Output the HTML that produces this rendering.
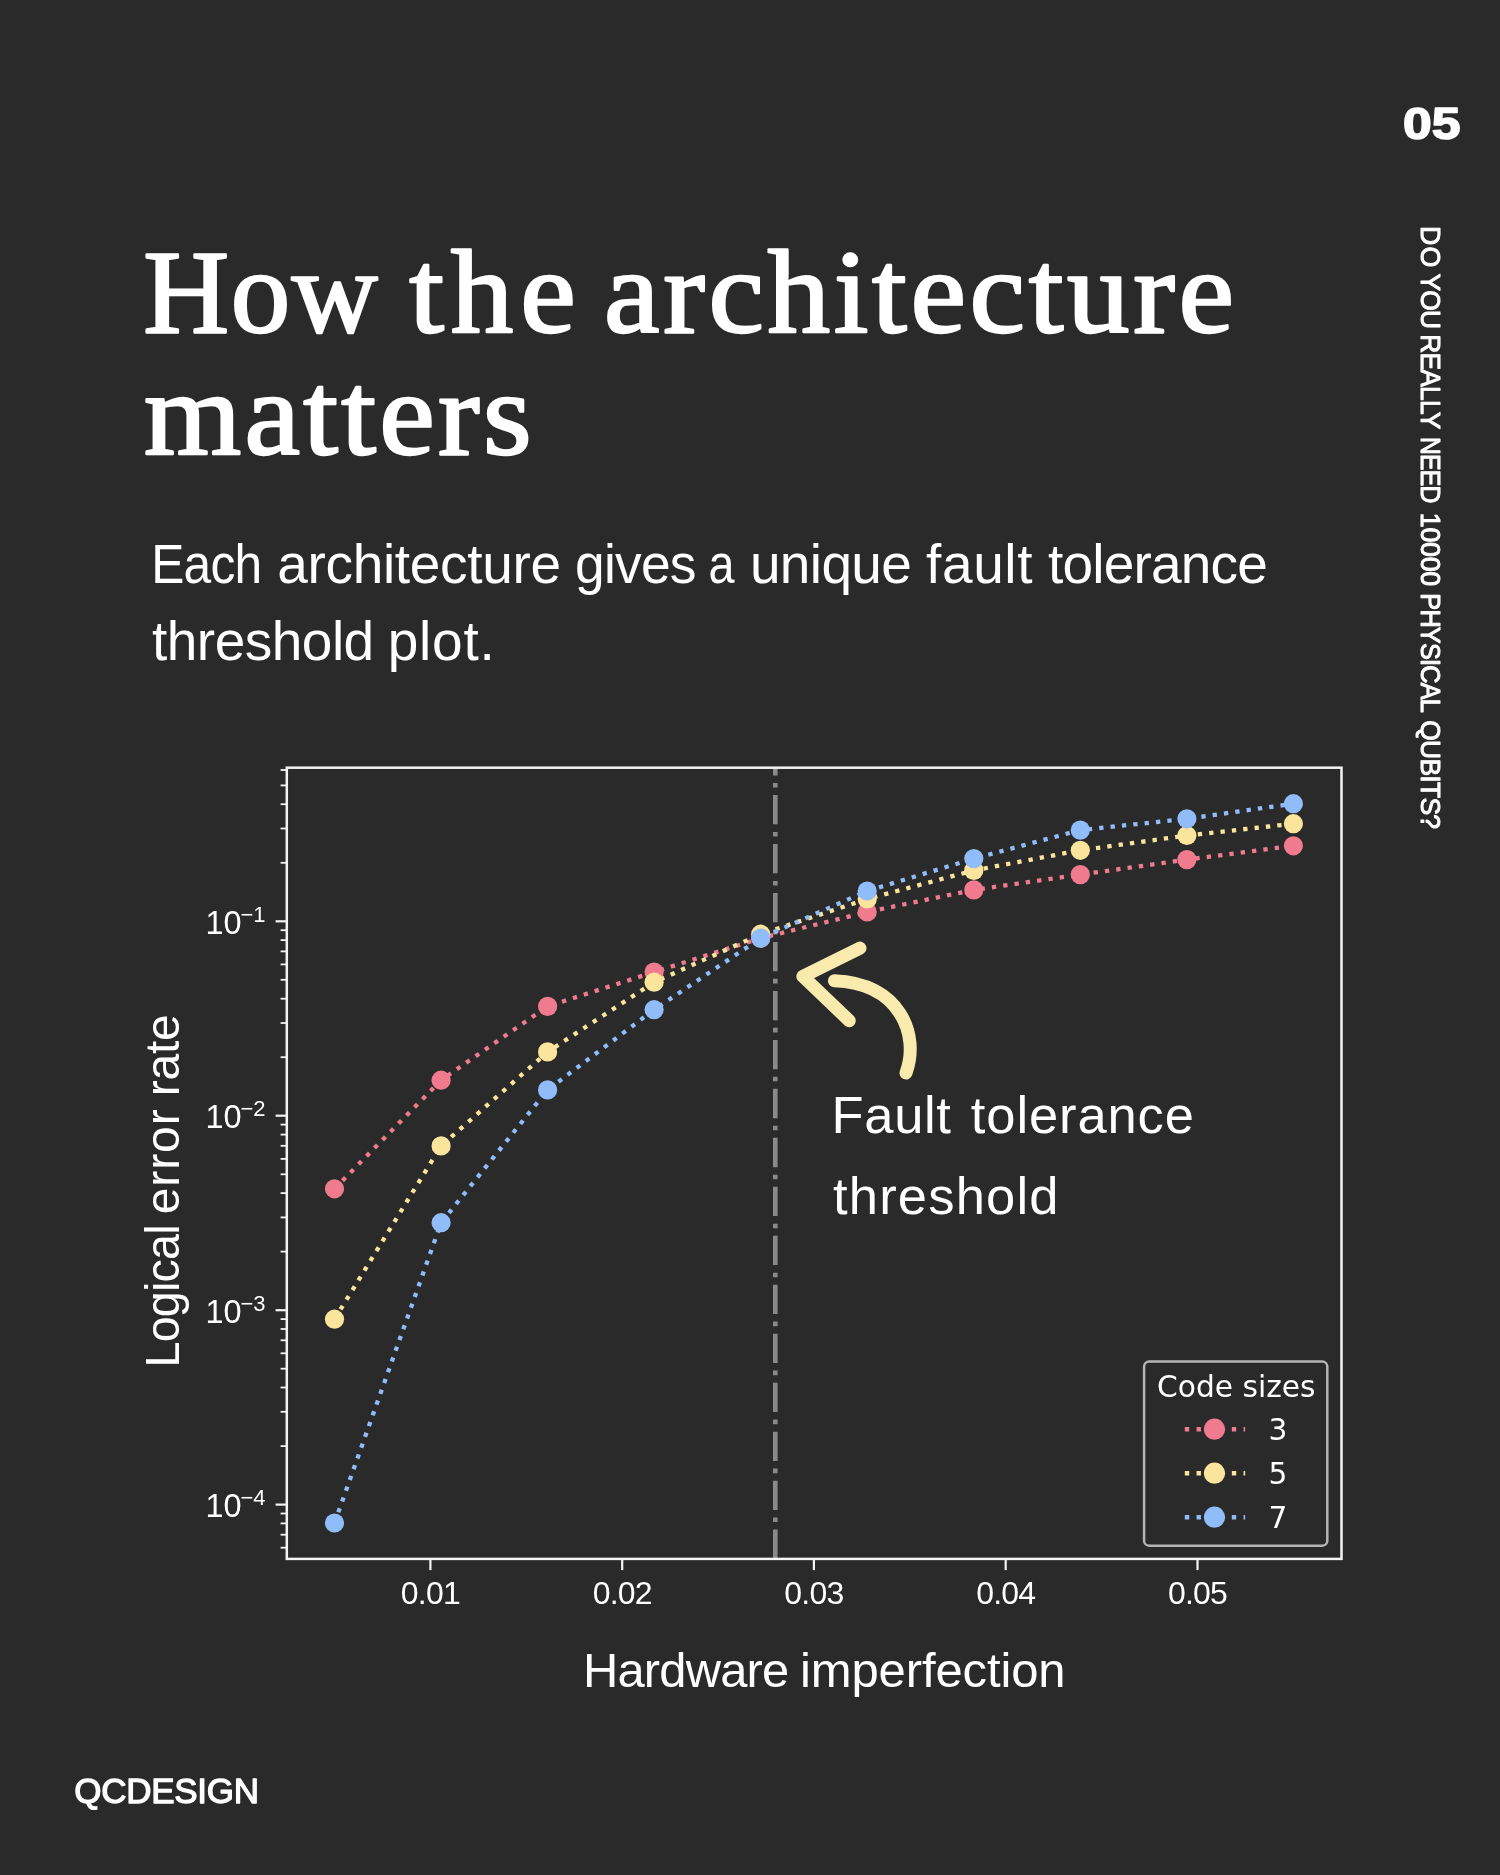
<!DOCTYPE html>
<html lang="en"><head><meta charset="utf-8"><title>How the architecture matters</title>
<style>
html,body{margin:0;padding:0;background:#2a2a2a;}
body{width:1500px;height:1875px;position:relative;overflow:hidden;}
#wrap{position:absolute;left:0;top:0;width:1500px;height:1875px;will-change:transform;}
svg{position:absolute;left:0;top:0;display:block;}
</style></head><body>
<div id="wrap">
<svg width="1500" height="1875" viewBox="0 0 1500 1875">
<text x="143.20" y="331.50" font-family="'Liberation Serif', serif" font-size="119" letter-spacing="1.58" fill="#ffffff" stroke="#ffffff" stroke-width="2.4" stroke-linejoin="round">How</text>
<text transform="translate(409.15,331.50) scale(1.0500,1)" font-family="'Liberation Serif', serif" font-size="119" letter-spacing="6.67" fill="#ffffff" stroke="#ffffff" stroke-width="2.4" stroke-linejoin="round">the</text>
<text transform="translate(604.00,331.50) scale(1.0500,1)" font-family="'Liberation Serif', serif" font-size="119" letter-spacing="3.50" fill="#ffffff" stroke="#ffffff" stroke-width="2.4" stroke-linejoin="round">architecture</text>
<text transform="translate(144.10,453.50) scale(1.0500,1)" font-family="'Liberation Serif', serif" font-size="119" letter-spacing="3.13" fill="#ffffff" stroke="#ffffff" stroke-width="2.4" stroke-linejoin="round">matters</text>
<text transform="translate(151.19,582.60) scale(0.9031,1)" font-family="'Liberation Sans', sans-serif" font-size="55" letter-spacing="-0.80" fill="#ffffff">Each</text>
<text x="277.20" y="582.60" font-family="'Liberation Sans', sans-serif" font-size="55" letter-spacing="-0.31" fill="#ffffff">architecture</text>
<text transform="translate(575.06,582.60) scale(0.9696,1)" font-family="'Liberation Sans', sans-serif" font-size="55" letter-spacing="-0.80" fill="#ffffff">gives</text>
<text transform="translate(708.42,582.60) scale(0.8500,1)" font-family="'Liberation Sans', sans-serif" font-size="55" fill="#ffffff">a</text>
<text x="749.90" y="582.60" font-family="'Liberation Sans', sans-serif" font-size="55" letter-spacing="-0.63" fill="#ffffff">unique</text>
<text x="926.00" y="582.60" font-family="'Liberation Sans', sans-serif" font-size="55" letter-spacing="0.63" fill="#ffffff">fault</text>
<text x="1048.00" y="582.60" font-family="'Liberation Sans', sans-serif" font-size="55" letter-spacing="-0.80" fill="#ffffff">tolerance</text>
<text x="152.00" y="660.40" font-family="'Liberation Sans', sans-serif" font-size="55" letter-spacing="-0.51" fill="#ffffff">threshold</text>
<text x="387.80" y="660.40" font-family="'Liberation Sans', sans-serif" font-size="55" letter-spacing="0.73" fill="#ffffff">plot.</text>
<text transform="translate(1402.95,138.60) scale(1.1470,1)" font-family="'Liberation Sans', sans-serif" font-size="45" font-weight="bold" fill="#ffffff" stroke="#ffffff" stroke-width="1.6" stroke-linejoin="round">05</text>
<g transform="translate(1420.9,0) rotate(90)">
<text x="225.90" y="0.00" font-family="'Liberation Sans', sans-serif" font-size="26.8" letter-spacing="1.35" fill="#ffffff" stroke="#ffffff" stroke-width="1.0" stroke-linejoin="round">DO</text>
<text transform="translate(273.40,0.00) scale(0.9870,1)" font-family="'Liberation Sans', sans-serif" font-size="26.8" letter-spacing="-0.80" fill="#ffffff" stroke="#ffffff" stroke-width="1.0" stroke-linejoin="round">YOU</text>
<text transform="translate(334.23,0.00) scale(0.9830,1)" font-family="'Liberation Sans', sans-serif" font-size="26.8" letter-spacing="-0.80" fill="#ffffff" stroke="#ffffff" stroke-width="1.0" stroke-linejoin="round">REALLY</text>
<text transform="translate(436.95,0.00) scale(0.9225,1)" font-family="'Liberation Sans', sans-serif" font-size="26.8" letter-spacing="-0.80" fill="#ffffff" stroke="#ffffff" stroke-width="1.0" stroke-linejoin="round">NEED</text>
<text x="512.80" y="0.00" font-family="'Liberation Sans', sans-serif" font-size="26.8" letter-spacing="-0.28" fill="#ffffff" stroke="#ffffff" stroke-width="1.0" stroke-linejoin="round">10000</text>
<text transform="translate(593.32,0.00) scale(0.9421,1)" font-family="'Liberation Sans', sans-serif" font-size="26.8" letter-spacing="-0.80" fill="#ffffff" stroke="#ffffff" stroke-width="1.0" stroke-linejoin="round">PHYSICAL</text>
<text transform="translate(720.21,0.00) scale(0.9911,1)" font-family="'Liberation Sans', sans-serif" font-size="26.8" letter-spacing="-0.80" fill="#ffffff" stroke="#ffffff" stroke-width="1.0" stroke-linejoin="round">QUBITS?</text>
</g>
<text x="74.35" y="1802.70" font-family="'Liberation Sans', sans-serif" font-size="35" letter-spacing="-0.30" fill="#ffffff" stroke="#ffffff" stroke-width="1.3" stroke-linejoin="round">QCDESIGN</text>
<line x1="775.3" y1="1558.9" x2="775.3" y2="767.7" stroke="#8a8a8a" stroke-width="4.6" stroke-dasharray="29.3 7.5 4.6 7.57"/>
<polyline points="334.5,1188.8 441.1,1080.2 547.6,1006.4 654.1,972.0 760.7,938.2 867.2,912.0 973.8,889.9 1080.3,874.6 1186.9,859.6 1293.4,845.8" fill="none" stroke="#f07b8e" stroke-width="4.3" stroke-dasharray="4.31 7.11"/>
<circle cx="334.5" cy="1188.8" r="9.6" fill="#f07b8e"/>
<circle cx="441.1" cy="1080.2" r="9.6" fill="#f07b8e"/>
<circle cx="547.6" cy="1006.4" r="9.6" fill="#f07b8e"/>
<circle cx="654.1" cy="972.0" r="9.6" fill="#f07b8e"/>
<circle cx="760.7" cy="938.2" r="9.6" fill="#f07b8e"/>
<circle cx="867.2" cy="912.0" r="9.6" fill="#f07b8e"/>
<circle cx="973.8" cy="889.9" r="9.6" fill="#f07b8e"/>
<circle cx="1080.3" cy="874.6" r="9.6" fill="#f07b8e"/>
<circle cx="1186.9" cy="859.6" r="9.6" fill="#f07b8e"/>
<circle cx="1293.4" cy="845.8" r="9.6" fill="#f07b8e"/>
<polyline points="334.5,1319.2 441.1,1145.9 547.6,1051.9 654.1,982.2 760.7,934.2 867.2,899.0 973.8,870.4 1080.3,850.3 1186.9,835.5 1293.4,823.7" fill="none" stroke="#fbe49c" stroke-width="4.3" stroke-dasharray="4.31 7.11"/>
<circle cx="334.5" cy="1319.2" r="9.6" fill="#fbe49c"/>
<circle cx="441.1" cy="1145.9" r="9.6" fill="#fbe49c"/>
<circle cx="547.6" cy="1051.9" r="9.6" fill="#fbe49c"/>
<circle cx="654.1" cy="982.2" r="9.6" fill="#fbe49c"/>
<circle cx="760.7" cy="934.2" r="9.6" fill="#fbe49c"/>
<circle cx="867.2" cy="899.0" r="9.6" fill="#fbe49c"/>
<circle cx="973.8" cy="870.4" r="9.6" fill="#fbe49c"/>
<circle cx="1080.3" cy="850.3" r="9.6" fill="#fbe49c"/>
<circle cx="1186.9" cy="835.5" r="9.6" fill="#fbe49c"/>
<circle cx="1293.4" cy="823.7" r="9.6" fill="#fbe49c"/>
<polyline points="334.5,1523.0 441.1,1222.7 547.6,1089.9 654.1,1009.7 760.7,938.1 867.2,891.0 973.8,858.6 1080.3,830.1 1186.9,818.8 1293.4,803.7" fill="none" stroke="#90bdfa" stroke-width="4.3" stroke-dasharray="4.31 7.11"/>
<circle cx="334.5" cy="1523.0" r="9.6" fill="#90bdfa"/>
<circle cx="441.1" cy="1222.7" r="9.6" fill="#90bdfa"/>
<circle cx="547.6" cy="1089.9" r="9.6" fill="#90bdfa"/>
<circle cx="654.1" cy="1009.7" r="9.6" fill="#90bdfa"/>
<circle cx="760.7" cy="938.1" r="9.6" fill="#90bdfa"/>
<circle cx="867.2" cy="891.0" r="9.6" fill="#90bdfa"/>
<circle cx="973.8" cy="858.6" r="9.6" fill="#90bdfa"/>
<circle cx="1080.3" cy="830.1" r="9.6" fill="#90bdfa"/>
<circle cx="1186.9" cy="818.8" r="9.6" fill="#90bdfa"/>
<circle cx="1293.4" cy="803.7" r="9.6" fill="#90bdfa"/>
<rect x="286.8" y="767.7" width="1054.7" height="791.2" fill="none" stroke="#f4f4f4" stroke-width="2.5"/>
<line x1="430.4" y1="1558.9" x2="430.4" y2="1570.1000000000001" stroke="#f4f4f4" stroke-width="2.2"/>
<text x="430.4" y="1604.1" text-anchor="middle" font-family="'Liberation Sans', sans-serif" font-size="32" letter-spacing="-0.8" fill="#ffffff">0.01</text>
<line x1="622.2" y1="1558.9" x2="622.2" y2="1570.1000000000001" stroke="#f4f4f4" stroke-width="2.2"/>
<text x="622.2" y="1604.1" text-anchor="middle" font-family="'Liberation Sans', sans-serif" font-size="32" letter-spacing="-0.8" fill="#ffffff">0.02</text>
<line x1="813.9" y1="1558.9" x2="813.9" y2="1570.1000000000001" stroke="#f4f4f4" stroke-width="2.2"/>
<text x="813.9" y="1604.1" text-anchor="middle" font-family="'Liberation Sans', sans-serif" font-size="32" letter-spacing="-0.8" fill="#ffffff">0.03</text>
<line x1="1005.7" y1="1558.9" x2="1005.7" y2="1570.1000000000001" stroke="#f4f4f4" stroke-width="2.2"/>
<text x="1005.7" y="1604.1" text-anchor="middle" font-family="'Liberation Sans', sans-serif" font-size="32" letter-spacing="-0.8" fill="#ffffff">0.04</text>
<line x1="1197.5" y1="1558.9" x2="1197.5" y2="1570.1000000000001" stroke="#f4f4f4" stroke-width="2.2"/>
<text x="1197.5" y="1604.1" text-anchor="middle" font-family="'Liberation Sans', sans-serif" font-size="32" letter-spacing="-0.8" fill="#ffffff">0.05</text>
<line x1="286.8" y1="1547.7" x2="280.6" y2="1547.7" stroke="#f4f4f4" stroke-width="1.8"/>
<line x1="286.8" y1="1534.7" x2="280.6" y2="1534.7" stroke="#f4f4f4" stroke-width="1.8"/>
<line x1="286.8" y1="1523.4" x2="280.6" y2="1523.4" stroke="#f4f4f4" stroke-width="1.8"/>
<line x1="286.8" y1="1513.5" x2="280.6" y2="1513.5" stroke="#f4f4f4" stroke-width="1.8"/>
<line x1="286.8" y1="1504.6" x2="275.6" y2="1504.6" stroke="#f4f4f4" stroke-width="2.2"/>
<line x1="286.8" y1="1446.1" x2="280.6" y2="1446.1" stroke="#f4f4f4" stroke-width="1.8"/>
<line x1="286.8" y1="1411.8" x2="280.6" y2="1411.8" stroke="#f4f4f4" stroke-width="1.8"/>
<line x1="286.8" y1="1387.5" x2="280.6" y2="1387.5" stroke="#f4f4f4" stroke-width="1.8"/>
<line x1="286.8" y1="1368.7" x2="280.6" y2="1368.7" stroke="#f4f4f4" stroke-width="1.8"/>
<line x1="286.8" y1="1353.3" x2="280.6" y2="1353.3" stroke="#f4f4f4" stroke-width="1.8"/>
<line x1="286.8" y1="1340.3" x2="280.6" y2="1340.3" stroke="#f4f4f4" stroke-width="1.8"/>
<line x1="286.8" y1="1329.0" x2="280.6" y2="1329.0" stroke="#f4f4f4" stroke-width="1.8"/>
<line x1="286.8" y1="1319.1" x2="280.6" y2="1319.1" stroke="#f4f4f4" stroke-width="1.8"/>
<line x1="286.8" y1="1310.2" x2="275.6" y2="1310.2" stroke="#f4f4f4" stroke-width="2.2"/>
<line x1="286.8" y1="1251.6" x2="280.6" y2="1251.6" stroke="#f4f4f4" stroke-width="1.8"/>
<line x1="286.8" y1="1217.4" x2="280.6" y2="1217.4" stroke="#f4f4f4" stroke-width="1.8"/>
<line x1="286.8" y1="1193.1" x2="280.6" y2="1193.1" stroke="#f4f4f4" stroke-width="1.8"/>
<line x1="286.8" y1="1174.3" x2="280.6" y2="1174.3" stroke="#f4f4f4" stroke-width="1.8"/>
<line x1="286.8" y1="1158.9" x2="280.6" y2="1158.9" stroke="#f4f4f4" stroke-width="1.8"/>
<line x1="286.8" y1="1145.8" x2="280.6" y2="1145.8" stroke="#f4f4f4" stroke-width="1.8"/>
<line x1="286.8" y1="1134.6" x2="280.6" y2="1134.6" stroke="#f4f4f4" stroke-width="1.8"/>
<line x1="286.8" y1="1124.6" x2="280.6" y2="1124.6" stroke="#f4f4f4" stroke-width="1.8"/>
<line x1="286.8" y1="1115.7" x2="275.6" y2="1115.7" stroke="#f4f4f4" stroke-width="2.2"/>
<line x1="286.8" y1="1057.2" x2="280.6" y2="1057.2" stroke="#f4f4f4" stroke-width="1.8"/>
<line x1="286.8" y1="1023.0" x2="280.6" y2="1023.0" stroke="#f4f4f4" stroke-width="1.8"/>
<line x1="286.8" y1="998.7" x2="280.6" y2="998.7" stroke="#f4f4f4" stroke-width="1.8"/>
<line x1="286.8" y1="979.8" x2="280.6" y2="979.8" stroke="#f4f4f4" stroke-width="1.8"/>
<line x1="286.8" y1="964.4" x2="280.6" y2="964.4" stroke="#f4f4f4" stroke-width="1.8"/>
<line x1="286.8" y1="951.4" x2="280.6" y2="951.4" stroke="#f4f4f4" stroke-width="1.8"/>
<line x1="286.8" y1="940.1" x2="280.6" y2="940.1" stroke="#f4f4f4" stroke-width="1.8"/>
<line x1="286.8" y1="930.2" x2="280.6" y2="930.2" stroke="#f4f4f4" stroke-width="1.8"/>
<line x1="286.8" y1="921.3" x2="275.6" y2="921.3" stroke="#f4f4f4" stroke-width="2.2"/>
<line x1="286.8" y1="862.8" x2="280.6" y2="862.8" stroke="#f4f4f4" stroke-width="1.8"/>
<line x1="286.8" y1="828.5" x2="280.6" y2="828.5" stroke="#f4f4f4" stroke-width="1.8"/>
<line x1="286.8" y1="804.2" x2="280.6" y2="804.2" stroke="#f4f4f4" stroke-width="1.8"/>
<line x1="286.8" y1="785.4" x2="280.6" y2="785.4" stroke="#f4f4f4" stroke-width="1.8"/>
<line x1="286.8" y1="770.0" x2="280.6" y2="770.0" stroke="#f4f4f4" stroke-width="1.8"/>
<text x="205.5" y="933.6" font-family="'Liberation Sans', sans-serif" font-size="32.5" fill="#ffffff">10</text>
<text x="240.5" y="921.7" font-family="'Liberation Sans', sans-serif" font-size="22" fill="#ffffff">−1</text>
<text x="205.5" y="1128.0" font-family="'Liberation Sans', sans-serif" font-size="32.5" fill="#ffffff">10</text>
<text x="240.5" y="1116.1" font-family="'Liberation Sans', sans-serif" font-size="22" fill="#ffffff">−2</text>
<text x="205.5" y="1322.5" font-family="'Liberation Sans', sans-serif" font-size="32.5" fill="#ffffff">10</text>
<text x="240.5" y="1310.6" font-family="'Liberation Sans', sans-serif" font-size="22" fill="#ffffff">−3</text>
<text x="205.5" y="1516.9" font-family="'Liberation Sans', sans-serif" font-size="32.5" fill="#ffffff">10</text>
<text x="240.5" y="1505.0" font-family="'Liberation Sans', sans-serif" font-size="22" fill="#ffffff">−4</text>
<text transform="translate(583.01,1687.00) scale(0.9972,1)" font-family="'Liberation Sans', sans-serif" font-size="49" letter-spacing="-0.80" fill="#ffffff">Hardware</text>
<text x="800.00" y="1687.00" font-family="'Liberation Sans', sans-serif" font-size="49" letter-spacing="-0.12" fill="#ffffff">imperfection</text>
<g transform="translate(178.6,1364.6) rotate(-90)">
<text transform="translate(-2.91,0.00) scale(0.9714,1)" font-family="'Liberation Sans', sans-serif" font-size="48" letter-spacing="-0.80" fill="#ffffff">Logical</text>
<text x="150.30" y="0.00" font-family="'Liberation Sans', sans-serif" font-size="48" letter-spacing="0.91" fill="#ffffff">error</text>
<text x="268.30" y="0.00" font-family="'Liberation Sans', sans-serif" font-size="48" letter-spacing="-0.24" fill="#ffffff">rate</text>
</g>
<text x="831.60" y="1133.10" font-family="'Liberation Sans', sans-serif" font-size="52.5" letter-spacing="0.64" fill="#ffffff">Fault</text>
<text x="970.80" y="1133.10" font-family="'Liberation Sans', sans-serif" font-size="52.5" letter-spacing="0.90" fill="#ffffff">tolerance</text>
<text x="833.00" y="1213.50" font-family="'Liberation Sans', sans-serif" font-size="52.5" letter-spacing="1.19" fill="#ffffff">threshold</text>
<g fill="none" stroke="#f8ebad" stroke-width="13" stroke-linecap="round" stroke-linejoin="round">
<path d="M860,948.1 L802.9,976.4 L849.3,1020.7"/>
<path d="M906,1073 C920,1035 900,983 834.4,980.7"/>
</g>
<rect x="1144.1" y="1361.6" width="183.2" height="184.1" rx="5" ry="5" fill="#2a2a2a" stroke="#b4b4b4" stroke-width="2.5"/>
<text x="1157" y="1397" font-family="'DejaVu Sans', sans-serif" font-size="29.7" fill="#ffffff">Code sizes</text>
<line x1="1184.8" y1="1429.2" x2="1245.2" y2="1429.2" stroke="#f07b8e" stroke-width="4.4" stroke-dasharray="4.4 7.35"/>
<circle cx="1214.5" cy="1429.2" r="10.6" fill="#f07b8e"/>
<text x="1268.5" y="1439.9" font-family="'DejaVu Sans', sans-serif" font-size="29.7" fill="#ffffff">3</text>
<line x1="1184.8" y1="1473.2" x2="1245.2" y2="1473.2" stroke="#fbe49c" stroke-width="4.4" stroke-dasharray="4.4 7.35"/>
<circle cx="1214.5" cy="1473.2" r="10.6" fill="#fbe49c"/>
<text x="1268.5" y="1483.9" font-family="'DejaVu Sans', sans-serif" font-size="29.7" fill="#ffffff">5</text>
<line x1="1184.8" y1="1517.2" x2="1245.2" y2="1517.2" stroke="#90bdfa" stroke-width="4.4" stroke-dasharray="4.4 7.35"/>
<circle cx="1214.5" cy="1517.2" r="10.6" fill="#90bdfa"/>
<text x="1268.5" y="1527.9" font-family="'DejaVu Sans', sans-serif" font-size="29.7" fill="#ffffff">7</text>
</svg>
</div>
</body></html>
